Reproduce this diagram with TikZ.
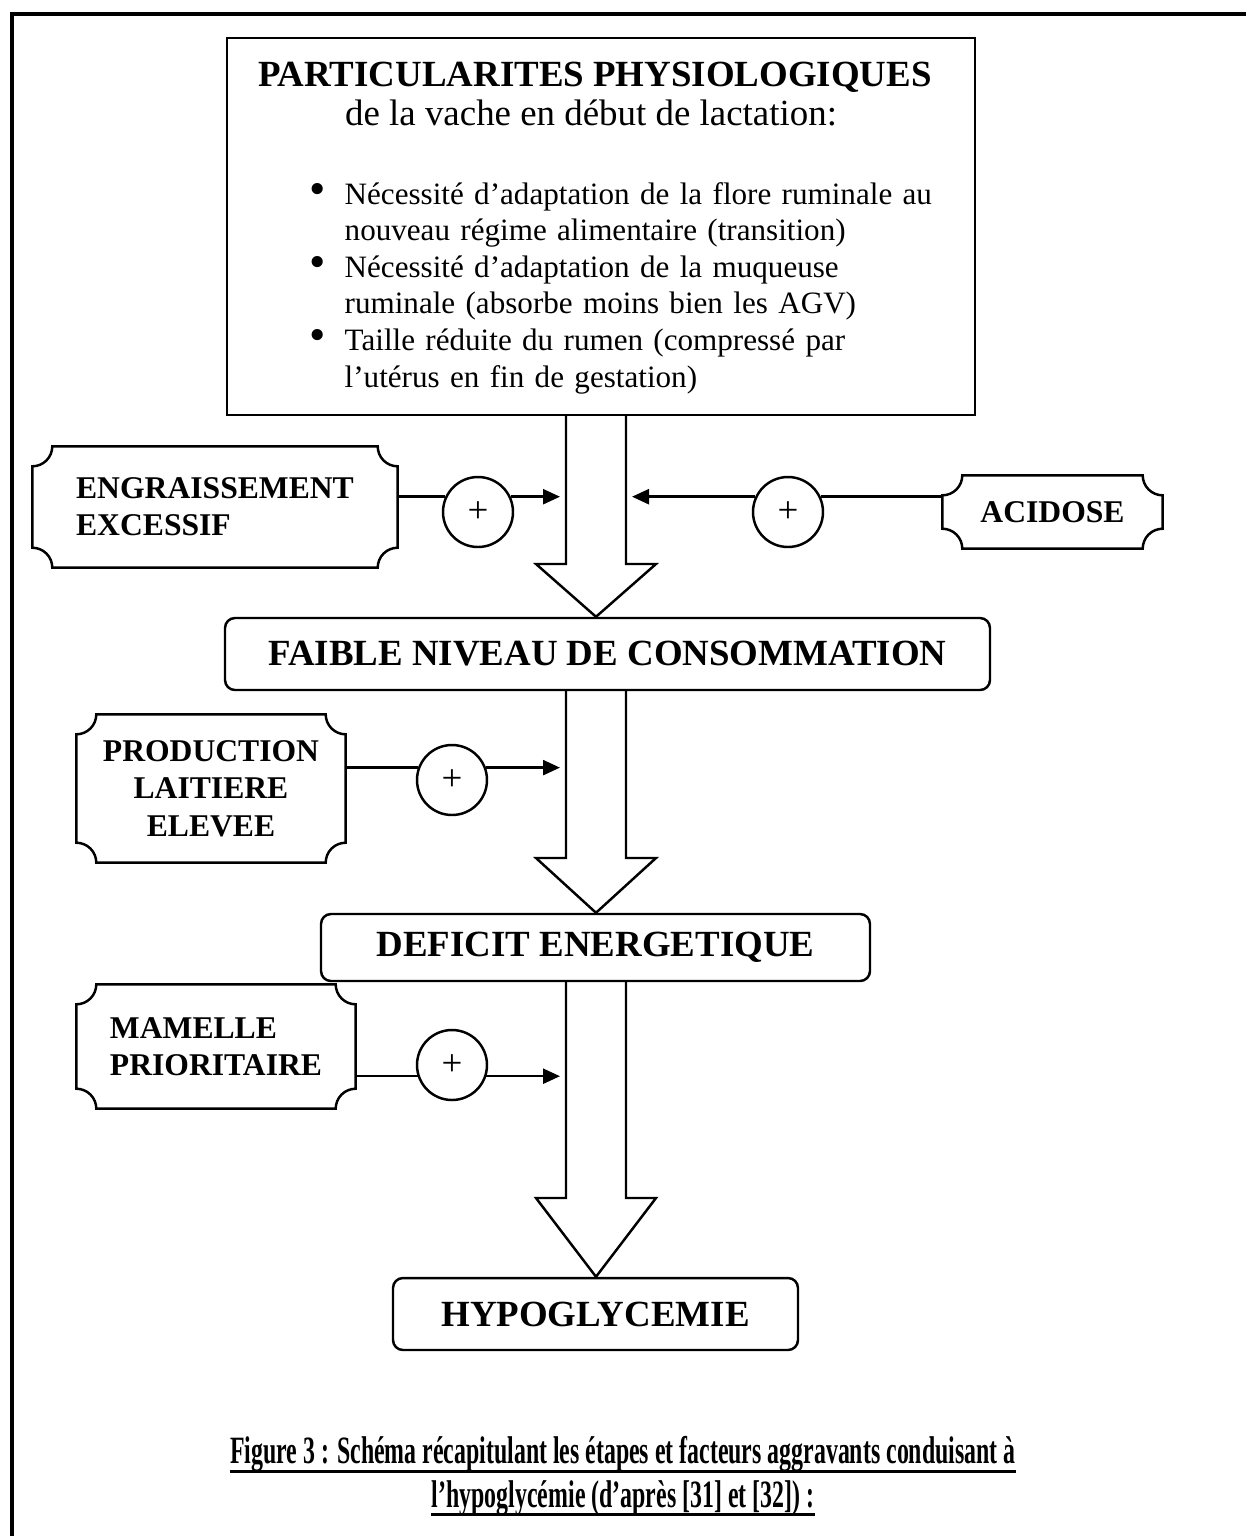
\documentclass[tikz,border=0pt]{standalone}
\usepackage{fontspec}
\setmainfont{Liberation Serif}
\newfontfamily\legende[FakeStretch=0.617]{Liberation Serif}
\usetikzlibrary{arrows.meta, positioning}

\newcommand\fgrand{\fontsize{10.5}{12.5}\selectfont\bfseries}
\newcommand\fsous{\fontsize{10.5}{12}\selectfont}
\newcommand\fmoyen{\fontsize{9}{10.6}\selectfont\bfseries}
\newcommand\ftexte{\fontsize{8.85}{10.4}\selectfont}
\newcommand\fplus{\fontsize{10.5}{12}\selectfont}
\newcommand\flegende{\legende\fontsize{11}{13}\selectfont\bfseries}
\newcommand\puce[1]{\par\noindent\hangindent=3.5mm\hangafter=1\makebox[3.5mm][l]{\scalebox{1.5}{\textbullet}}#1}
\newcommand\plaque[1]{%
  \draw[cadre] ([xshift=2mm]#1.north west) -- ([xshift=-2mm]#1.north east)
    arc[start angle=180, end angle=270, radius=2mm] -- ([yshift=2mm]#1.south east)
    arc[start angle=90, end angle=180, radius=2mm] -- ([xshift=2mm]#1.south west)
    arc[start angle=0, end angle=90, radius=2mm] -- ([yshift=-2mm]#1.north west)
    arc[start angle=-90, end angle=0, radius=2mm] -- cycle;}

\begin{document}
\begin{tikzpicture}[x=0.1mm, y=-0.1mm, >={Triangle[length=1.7mm, width=1.5mm]},
    cadre/.style={draw, line width=0.7pt},
    etape/.style={cadre, rounded corners=1mm, font=\fgrand, inner sep=0pt},
    facteur/.style={inner sep=0pt, font=\fmoyen},
    plus/.style={cadre, circle, minimum size=7mm, inner sep=0pt, fill=white, font=\fplus},
    bigarrow/.style={cadre, line join=miter},
    fleche/.style={line width=0.7pt, ->, shorten >=0.6mm}]
    \useasboundingbox (0,0) rectangle (1246,1536);

    % Cadre de la page
    \draw[line width=1.1pt] (12,1536) -- (12,14) -- (1246,14);

    % Boite du haut
    \node[cadre, minimum width=74.8mm, minimum height=37.7mm] (partic) at (601,226.5) {};
    \node[font=\fgrand] (ptitre) at (595,77) {PARTICULARITES PHYSIOLOGIQUES};
    \node[font=\fsous] (psous) at (591,113) {de la vache en début de lactation:};
    \node[font=\ftexte, text width=64mm, inner sep=0pt, anchor=north west] (pliste) at (309,167) {%
      \puce{Nécessité d’adaptation de la flore ruminale au\newline nouveau régime alimentaire (transition)}
      \puce{Nécessité d’adaptation de la muqueuse\newline ruminale (absorbe moins bien les AGV)}
      \puce{Taille réduite du rumen (compressé par\newline l’utérus en fin de gestation)}\par};

    % Etapes
    \node[etape, minimum width=76.5mm, minimum height=7.2mm] (faible) at (607.5,654) {FAIBLE NIVEAU DE CONSOMMATION};
    \node[etape, minimum width=54.9mm, minimum height=6.7mm] (deficit) at (595.5,947.5) {DEFICIT ENERGETIQUE};
    \node[etape, minimum width=40.5mm, minimum height=7.2mm] (hypo) at (595.5,1314) {HYPOGLYCEMIE};

    % Facteurs aggravants
    \node[facteur, align=left, minimum width=36.4mm, minimum height=12mm] (engr) at (215,507) {ENGRAISSEMENT\\EXCESSIF};
    \node[facteur, minimum width=21.9mm, minimum height=7.2mm] (acid) at (1052.5,512) {ACIDOSE};
    \node[facteur, align=center, minimum width=26.8mm, minimum height=14.7mm] (prod) at (211,788.5) {PRODUCTION\\LAITIERE\\ELEVEE};
    \node[facteur, align=left, minimum width=27.8mm, minimum height=12.3mm] (mam) at (216,1046.5) {MAMELLE\\PRIORITAIRE};
    \plaque{engr}
    \plaque{acid}
    \plaque{prod}
    \plaque{mam}

    \node[plus] (p1) at (478,512) {+};
    \node[plus] (p2) at (788,512) {+};
    \node[plus] (p3) at (452,780) {+};
    \node[plus] (p4) at (452,1065) {+};

    % Grosses fleches
    \draw[bigarrow] (partic.south -| 566,0) -- (566,564) -- (536,564) -- (faible.north -| 596,0)
      -- (656,564) -- (626,564) -- (partic.south -| 626,0);
    \draw[bigarrow] (faible.south -| 566,0) -- (566,858) -- (536,858) -- (deficit.north -| 596,0)
      -- (656,858) -- (626,858) -- (faible.south -| 626,0);
    \draw[bigarrow] (deficit.south -| 566,0) -- (566,1198) -- (536,1198) -- (hypo.north -| 596,0)
      -- (656,1198) -- (626,1198) -- (deficit.south -| 626,0);

    % Liaisons
    \draw[cadre] (engr.east |- p1.155) -- (p1.155);
    \draw[fleche] (p1.25) -- (p1.25 -| 566,0);
    \draw[cadre] (acid.west |- p2.25) -- (p2.25);
    \draw[fleche] (p2.155) -- (p2.155 -| 626,0);
    \draw[cadre] (prod.east |- p3.160) -- (p3.160);
    \draw[fleche] (p3.20) -- (p3.20 -| 566,0);
    \draw[cadre] (mam.east |- p4.198) -- (p4.198);
    \draw[fleche] (p4.342) -- (p4.342 -| 566,0);

    % Legende
    \node[font=\flegende, inner sep=0pt] (leg1) at (623,1454) {Figure 3 : Schéma récapitulant les étapes et facteurs aggravants conduisant à};
    \node[font=\flegende, inner sep=0pt] (leg2) at (623,1498) {l’hypoglycémie (d’après [31] et [32]) :};
    \draw[line width=0.9pt] ([yshift=-2.2pt]leg1.base west) -- ([yshift=-2.2pt]leg1.base east);
    \draw[line width=0.9pt] ([yshift=-2.2pt]leg2.base west) -- ([yshift=-2.2pt]leg2.base east);
\end{tikzpicture}
\end{document}
